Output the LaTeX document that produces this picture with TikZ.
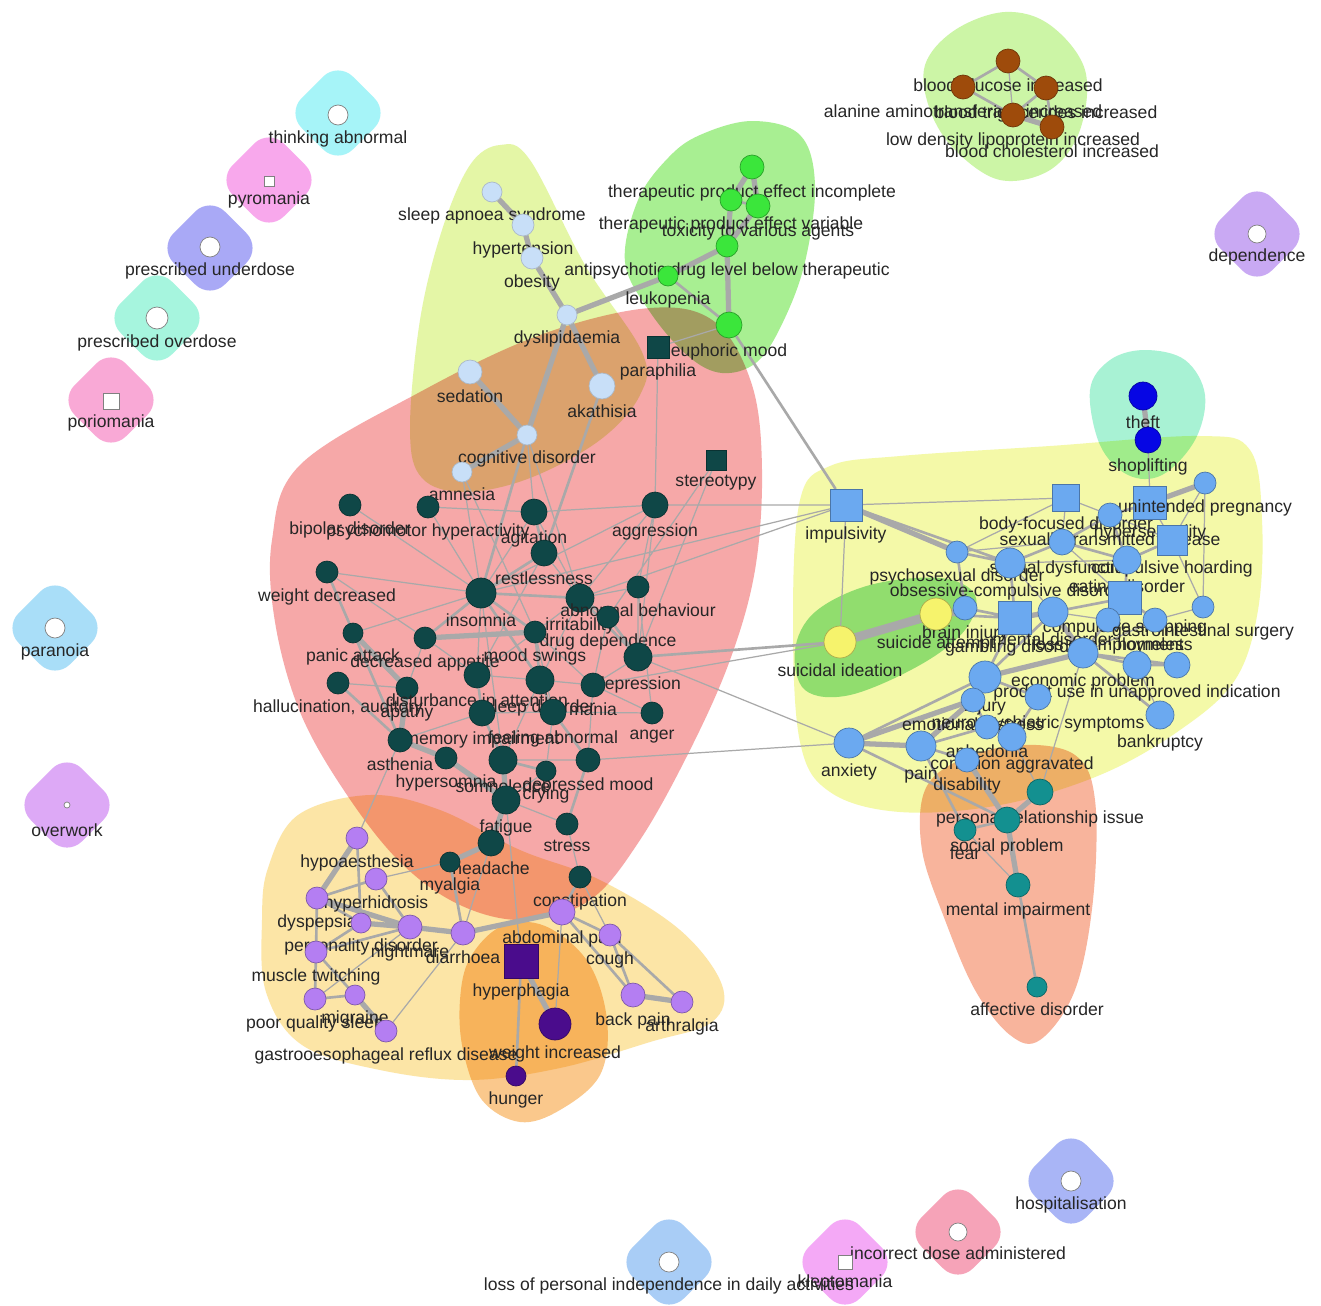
\documentclass[tikz,border=0pt]{standalone}
\usepackage{fontspec}
\setmainfont{Liberation Sans}
\usepackage{xcolor}
\usepackage{tikz}
\pgfdeclarelayer{hull}
\pgfdeclarelayer{edge}
\pgfsetlayers{hull,edge,main}
\definecolor{edgegray}{HTML}{A9A9A9}
\definecolor{lbltext}{HTML}{262626}
\definecolor{metabblue}{HTML}{C8DFF8}
\definecolor{druggreen}{HTML}{3BE63B}
\definecolor{darkteal}{HTML}{0F4747}
\definecolor{lilac}{HTML}{B47EF2}
\definecolor{indigo}{HTML}{4A0C8C}
\definecolor{cornblue}{HTML}{6BA9F0}
\definecolor{sunyellow}{HTML}{F6F36C}
\definecolor{seateal}{HTML}{139090}
\definecolor{deepblue}{HTML}{0606E4}
\definecolor{rust}{HTML}{9E4B0B}
\definecolor{hullmetab}{HTML}{E4F6A6}
\definecolor{hulldrug}{HTML}{A8EF92}
\definecolor{hullpsych}{HTML}{F6A8A8}
\definecolor{hullgi}{HTML}{FCE5A6}
\definecolor{hullappetite}{HTML}{FAC88C}
\definecolor{hullimpulse}{HTML}{F4F9A8}
\definecolor{hullsuicide}{HTML}{98E3A8}
\definecolor{hulltheft}{HTML}{A8F2D4}
\definecolor{hullsocial}{HTML}{F8B49C}
\definecolor{hulllab}{HTML}{CCF5A6}
\definecolor{blobcyan}{HTML}{A6F4F8}
\definecolor{blobpink}{HTML}{F8A8EC}
\definecolor{blobperi}{HTML}{A9A9F6}
\definecolor{blobmint}{HTML}{A6F5DE}
\definecolor{blobrose}{HTML}{F9A9D6}
\definecolor{blobsky}{HTML}{A9DEF8}
\definecolor{bloblilac}{HTML}{DDA9F6}
\definecolor{blobviolet}{HTML}{C9A9F3}
\definecolor{blobblue}{HTML}{A9B5F6}
\definecolor{blobcoral}{HTML}{F6A3B8}
\definecolor{blobmauve}{HTML}{F4A9F6}
\definecolor{blobazure}{HTML}{A9CDF6}

\begin{document}
\begin{tikzpicture}[x=0.02cm, y=-0.02cm,
  every label/.style={font=\fontsize{10}{11}\selectfont, text=lbltext, inner sep=0.5pt},
  label distance=2.5pt,
  net/.style={inner sep=0pt, outer sep=0pt, line width=0.4pt},
  wc/.style={net, circle, fill=white, draw=gray, minimum size=#1*0.02cm}, wc/.default=20,
  ws/.style={net, rectangle, fill=white, draw=gray, minimum size=#1*0.02cm}, ws/.default=12,
  mb/.style={net, circle, fill=metabblue, draw=metabblue!60!gray, minimum size=#1*0.02cm}, mb/.default=22,
  dg/.style={net, circle, fill=druggreen, draw=druggreen!70!black, minimum size=#1*0.02cm}, dg/.default=24,
  dk/.style={net, circle, fill=darkteal, draw=darkteal!70!black, minimum size=#1*0.02cm}, dk/.default=22,
  dksq/.style={net, rectangle, fill=darkteal, draw=darkteal!70!black, minimum size=#1*0.02cm}, dksq/.default=22,
  lp/.style={net, circle, fill=lilac, draw=lilac!70!black, minimum size=#1*0.02cm}, lp/.default=22,
  ip/.style={net, circle, fill=indigo, draw=indigo!70!black, minimum size=#1*0.02cm}, ip/.default=22,
  ipsq/.style={net, rectangle, fill=indigo, draw=indigo!70!black, minimum size=#1*0.02cm}, ipsq/.default=34,
  cb/.style={net, circle, fill=cornblue, draw=cornblue!70!black, minimum size=#1*0.02cm}, cb/.default=26,
  cbsq/.style={net, rectangle, fill=cornblue, draw=cornblue!70!black, minimum size=#1*0.02cm}, cbsq/.default=32,
  sy/.style={net, circle, fill=sunyellow, draw=sunyellow!70!black, minimum size=#1*0.02cm}, sy/.default=32,
  st/.style={net, circle, fill=seateal, draw=seateal!70!black, minimum size=#1*0.02cm}, st/.default=24,
  db/.style={net, circle, fill=deepblue, draw=deepblue!70!black, minimum size=#1*0.02cm}, db/.default=28,
  br/.style={net, circle, fill=rust, draw=rust!70!black, minimum size=#1*0.02cm}, br/.default=24,
  blob/.style={rectangle, rotate=45, minimum size=1.45cm, rounded corners=0.42cm, inner sep=0pt},
  ethin/.style={draw=edgegray, line width=0.7pt},
  emid/.style={draw=edgegray, line width=1.5pt},
  ethick/.style={draw=edgegray, line width=3pt},
  ehuge/.style={draw=edgegray, line width=5pt}]

\useasboundingbox (0,0) rectangle (1321,1305);

% cluster hulls
\begin{pgfonlayer}{hull}
\fill[white] (0,0) rectangle (1321,1305);
\begin{scope}[blend mode=multiply]
\fill[hullmetab] plot[smooth cycle, tension=0.6] coordinates {(470,165) (500,145) (530,160) (585,265) (642,352) (640,395) (600,440) (530,478) (465,492) (422,478) (410,430) (420,320) (442,230)};
\fill[hulldrug] plot[smooth cycle, tension=0.6] coordinates {(700,135) (752,121) (800,135) (815,185) (805,262) (783,322) (757,362) (722,373) (688,356) (650,312) (625,262) (638,200) (668,158)};
\fill[hullpsych] plot[smooth cycle, tension=0.6] coordinates {(300,465) (420,392) (540,335) (650,308) (715,322) (752,385) (762,470) (755,570) (730,660) (690,750) (640,840) (590,900) (525,920) (460,905) (400,862) (345,792) (300,712) (275,622) (272,540)};
\fill[hullgi] plot[smooth cycle, tension=0.6] coordinates {(268,868) (298,815) (370,795) (440,810) (520,850) (600,880) (680,930) (722,985) (712,1022) (650,1042) (560,1068) (470,1080) (380,1070) (302,1045) (266,992) (262,920)};
\fill[hullappetite] plot[smooth cycle, tension=0.6] coordinates {(470,958) (502,926) (545,926) (588,962) (607,1020) (600,1075) (560,1110) (520,1122) (482,1100) (463,1050) (460,1000)};
\fill[hullimpulse] plot[smooth cycle, tension=0.6] coordinates {(800,500) (830,466) (900,456) (1050,446) (1200,436) (1250,450) (1262,520) (1258,610) (1235,680) (1180,730) (1100,775) (1000,805) (900,812) (830,792) (800,742) (793,620)};
\fill[hullsuicide] plot[smooth cycle, tension=0.6] coordinates {(795,650) (815,612) (870,585) (940,578) (975,595) (965,630) (920,665) (850,695) (805,690)};
\fill[hulltheft] plot[smooth cycle, tension=0.6] coordinates {(1090,390) (1110,360) (1145,350) (1185,360) (1205,395) (1195,440) (1162,475) (1128,475) (1100,445)};
\fill[hullsocial] plot[smooth cycle, tension=0.6] coordinates {(925,790) (960,760) (1020,745) (1075,755) (1095,800) (1093,900) (1075,990) (1040,1040) (1010,1035) (975,990) (945,920) (922,850)};
\fill[hulllab] plot[smooth cycle, tension=0.6] coordinates {(925,65) (955,30) (1005,12) (1050,25) (1085,70) (1080,130) (1050,170) (1000,180) (955,150) (930,110)};
\end{scope}
% single-term hulls
\foreach \bx/\by/\bc [count=\i] in {338/113/blobcyan, 269/180/blobpink, 210/248/blobperi,
    157/318/blobmint, 111/400/blobrose, 55/628/blobsky, 67/805/bloblilac, 1257/234/blobviolet,
    1071/1181/blobblue, 958/1232/blobcoral, 845/1262/blobmauve, 669/1262/blobazure}
  \node[blob, fill=\bc] (blob\i) at (\bx,\by) {};
\end{pgfonlayer}

% isolated terms
\node[wc=20, label=below:thinking abnormal] (tab) at (338,115) {};
\node[ws=10, label=below:pyromania] (pyr) at (269,181) {};
\node[wc=20, label=below:prescribed underdose] (pud) at (210,247) {};
\node[wc=22, label=below:prescribed overdose] (pod) at (157,318) {};
\node[ws=16, label=below:poriomania] (por) at (111,401) {};
\node[wc=20, label=below:paranoia] (prn) at (55,628) {};
\node[wc=6, label={[label distance=8pt]below:overwork}] (ovw) at (67,805) {};
\node[wc=18, label=below:dependence] (dpd) at (1257,234) {};
\node[wc=20, label=below:hospitalisation] (hos) at (1071,1181) {};
\node[wc=18, label=below:incorrect dose administered] (ida) at (958,1232) {};
\node[ws=14, label=below:kleptomania] (klp) at (845,1262) {};
\node[wc=20, label=below:loss of personal independence in daily activities] (lpi) at (669,1262) {};

% laboratory values
\node[br, label=below:blood glucose increased] (bgi) at (1008,61) {};
\node[br, label=below:alanine aminotransferase increased] (alt) at (963,87) {};
\node[br, label=below:blood triglycerides increased] (btg) at (1046,88) {};
\node[br, label=below:low density lipoprotein increased] (ldl) at (1013,115) {};
\node[br, label=below:blood cholesterol increased] (bch) at (1052,127) {};

% metabolic
\node[mb=20, label=below:sleep apnoea syndrome] (sas) at (492,192) {};
\node[mb=22, label=below:hypertension] (htn) at (523,225) {};
\node[mb=22, label=below:obesity] (obs) at (532,258) {};
\node[mb=20, label=below:dyslipidaemia] (dys) at (567,315) {};
\node[mb=24, label=below:sedation] (sed) at (470,372) {};
\node[mb=26, label=below:akathisia] (aka) at (602,386) {};
\node[mb=20, label=below:cognitive disorder] (cog) at (527,435) {};
\node[mb=20, label=below:amnesia] (amn) at (462,472) {};

% drug levels
\node[dg=24, label=below:therapeutic product effect incomplete] (tpi) at (752,167) {};
\node[dg=22, label=below:therapeutic product effect variable] (tpv) at (731,200) {};
\node[dg=24, label=below:toxicity to various agents] (tox) at (758,206) {};
\node[dg=22, label=below:antipsychotic drug level below therapeutic] (adl) at (727,246) {};
\node[dg=20, label=below:leukopenia] (leu) at (668,276) {};
\node[dg=26, label=below:euphoric mood] (eup) at (729,325) {};

% psychiatric
\node[dksq=22, label=below:paraphilia] (par) at (658,347) {};
\node[dksq=20, label=below:stereotypy] (ste) at (716,460) {};
\node[dk=22, label=below:bipolar disorder] (bip) at (350,505) {};
\node[dk=22, label=below:psychomotor hyperactivity] (psy) at (428,507) {};
\node[dk=26, label=below:agitation] (agi) at (534,512) {};
\node[dk=26, label=below:aggression] (agg) at (655,505) {};
\node[dk=26, label=below:restlessness] (res) at (544,553) {};
\node[dk=22, label=below:weight decreased] (wdc) at (327,572) {};
\node[dk=30, label=below:insomnia] (ins) at (481,593) {};
\node[dk=28, label=below:irritability] (irr) at (580,598) {};
\node[dk=22, label=below:abnormal behaviour] (abb) at (638,587) {};
\node[dk=22, label=below:drug dependence] (drd) at (608,617) {};
\node[dk=22, label=below:mood swings] (mos) at (535,632) {};
\node[dk=20, label=below:panic attack] (pan) at (353,633) {};
\node[dk=22, label=below:decreased appetite] (dap) at (425,638) {};
\node[dk=28, label=below:depression] (dep) at (638,657) {};
\node[dk=22, label={below:hallucination, auditory}] (hal) at (338,683) {};
\node[dk=22, label=below:apathy] (apa) at (407,688) {};
\node[dk=26, label=below:disturbance in attention] (dia) at (477,675) {};
\node[dk=28, label=below:sleep disorder] (sld) at (540,680) {};
\node[dk=24, label=below:mania] (man) at (593,685) {};
\node[dk=26, label=below:memory impairment] (mem) at (482,713) {};
\node[dk=26, label=below:feeling abnormal] (fab) at (553,712) {};
\node[dk=22, label=below:anger] (ang) at (652,713) {};
\node[dk=24, label=below:asthenia] (ast) at (400,740) {};
\node[dk=22, label=below:hypersomnia] (hys) at (446,758) {};
\node[dk=28, label=below:somnolence] (som) at (503,760) {};
\node[dk=24, label=below:depressed mood] (dpm) at (588,760) {};
\node[dk=20, label=below:crying] (cry) at (546,771) {};
\node[dk=28, label=below:fatigue] (fat) at (506,800) {};
\node[dk=22, label=below:stress] (str) at (567,824) {};
\node[dk=26, label=below:headache] (hea) at (491,843) {};
\node[dk=20, label=below:myalgia] (mya) at (450,862) {};
\node[dk=22, label=below:constipation] (con) at (580,877) {};

% gastrointestinal and somatic
\node[lp=22, label=below:hypoaesthesia] (hyp) at (357,838) {};
\node[lp=22, label=below:hyperhidrosis] (hyh) at (376,879) {};
\node[lp=22, label=below:dyspepsia] (dysp) at (317,898) {};
\node[lp=20, label=below:personality disorder] (pdi) at (361,923) {};
\node[lp=24, label=below:nightmare] (nig) at (410,927) {};
\node[lp=24, label=below:diarrhoea] (drh) at (463,933) {};
\node[lp=22, label=below:muscle twitching] (mtw) at (316,952) {};
\node[lp=22, label=below:poor quality sleep] (pqs) at (315,999) {};
\node[lp=20, label=below:migraine] (mig) at (355,995) {};
\node[lp=22, label=below:gastrooesophageal reflux disease] (ger) at (386,1031) {};
\node[lp=26, label=below:abdominal pain] (abp) at (562,912) {};
\node[lp=22, label=below:cough] (cou) at (610,935) {};
\node[lp=24, label=below:back pain] (bap) at (633,995) {};
\node[lp=22, label=below:arthralgia] (art) at (682,1002) {};

% appetite
\node[ipsq=34, label=below:hyperphagia] (hph) at (521,961) {};
\node[ip=32, label=below:weight increased] (wti) at (555,1024) {};
\node[ip=20, label=below:hunger] (hun) at (516,1076) {};

% impulse control
\node[cbsq=32, label=below:impulsivity] (imp) at (846,505) {};
\node[cbsq=27, label=below:body-focused disorder] (bfd) at (1066,498) {};
\node[cbsq=33, label=below:hypersexuality] (hsx) at (1150,503) {};
\node[cb=22, label=below:unintended pregnancy] (unp) at (1205,483) {};
\node[cb=24, label=below:sexually transmitted disease] (std) at (1110,515) {};
\node[cb=22, label=below:psychosexual disorder] (psd) at (957,552) {};
\node[cb=26, label=below:sexual dysfunction] (sdy) at (1062,542) {};
\node[cb=30, label=below:obsessive-compulsive disorder] (ocd) at (1010,563) {};
\node[cbsq=30, label=below:compulsive hoarding] (chd) at (1172,540) {};
\node[cb=28, label=below:eating disorder] (eat) at (1127,560) {};
\node[cbsq=33, label=below:compulsive shopping] (csh) at (1125,598) {};
\node[cb=24, label=below:brain injury] (bri) at (965,608) {};
\node[cbsq=33, label=below:gambling disorder] (gam) at (1015,618) {};
\node[cb=30, label=below:mental disorder] (mdi) at (1053,612) {};
\node[cb=24, label=below:loss of employment] (loe) at (1108,620) {};
\node[cb=22, label=below:gastrointestinal surgery] (gis) at (1203,607) {};
\node[cb=24, label=below:homeless] (hom) at (1155,620) {};
\node[cb=30, label=below:economic problem] (eco) at (1083,653) {};
\node[cb=28, label=below:product use in unapproved indication] (pua) at (1137,665) {};
\node[cb=26] (unk) at (1177,665) {};
\node[cb=32, label=below:injury] (inj) at (985,677) {};
\node[cb=24, label=below:emotional distress] (emd) at (973,700) {};
\node[cb=26, label=below:neuropsychiatric symptoms] (nps) at (1038,697) {};
\node[cb=28, label=below:bankruptcy] (bkr) at (1160,715) {};
\node[cb=24, label=below:anhedonia] (anh) at (987,727) {};
\node[cb=28, label=below:condition aggravated] (cag) at (1012,737) {};
\node[cb=24, label=below:disability] (dsb) at (967,760) {};
\node[cb=30, label=below:anxiety] (anx) at (849,743) {};
\node[cb=30, label=below:pain] (pai) at (921,746) {};
\node[sy=32, label=below:suicidal ideation] (sui) at (840,642) {};
\node[sy=32, label=below:suicide attempt] (sat) at (936,614) {};
\node[db=28, label=below:theft] (the) at (1143,396) {};
\node[db=26, label=below:shoplifting] (sho) at (1148,440) {};

% social
\node[st=26, label=below:personal relationship issue] (pri) at (1040,792) {};
\node[st=26, label=below:social problem] (spr) at (1007,820) {};
\node[st=22, label=below:fear] (fea) at (965,830) {};
\node[st=24, label=below:mental impairment] (mim) at (1018,885) {};
\node[st=20, label=below:affective disorder] (afd) at (1037,987) {};

% co-occurrence links
\begin{pgfonlayer}{edge}
\draw[ethin] (bgi) -- (ldl) (cog) -- (irr) (cog) -- (agi) (amn) -- (ins) (amn) -- (mos)
  (eup) -- (par) (par) -- (agg) (ste) -- (drd) (ste) -- (dep) (bip) -- (ins) (psy) -- (ins)
  (psy) -- (agi) (agi) -- (agg) (agg) -- (imp) (agi) -- (ins) (agi) -- (irr) (agg) -- (ins)
  (agg) -- (irr) (agg) -- (dep) (agg) -- (abb) (res) -- (irr) (res) -- (dia) (ins) -- (som)
  (ins) -- (wdc) (ins) -- (pan) (ins) -- (dia) (irr) -- (abb) (irr) -- (mos) (irr) -- (sld)
  (abb) -- (dep) (abb) -- (ang) (drd) -- (man) (mos) -- (dia) (mos) -- (man) (mos) -- (fab)
  (wdc) -- (dap) (hal) -- (apa) (dap) -- (apa) (dap) -- (dia) (dia) -- (sld) (sld) -- (man)
  (sld) -- (som) (mem) -- (fab) (mem) -- (ast) (fab) -- (ang) (fab) -- (cry) (man) -- (dpm)
  (man) -- (ang) (dep) -- (man) (dep) -- (anx) (dpm) -- (anx) (cry) -- (fat) (fat) -- (str)
  (str) -- (con) (hea) -- (drh) (fat) -- (hph) (dpm) -- (som) (ins) -- (imp) (irr) -- (imp)
  (man) -- (sui) (hyp) -- (ast) (hyh) -- (mya) (nig) -- (pqs) (ger) -- (drh) (abp) -- (wti)
  (con) -- (cou) (imp) -- (bfd) (imp) -- (sui) (psd) -- (bfd) (psd) -- (sdy) (ocd) -- (eat)
  (ocd) -- (mdi) (bfd) -- (sdy) (bfd) -- (std) (hsx) -- (chd) (hsx) -- (sho) (std) -- (chd)
  (sdy) -- (csh) (chd) -- (unp) (chd) -- (gis) (gis) -- (hom) (gis) -- (unp) (pua) -- (bkr)
  (cag) -- (pri) (eco) -- (pri) (fea) -- (mim) (hom) -- (eco) (loe) -- (csh) (loe) -- (mdi);
\draw[emid] (bgi) -- (alt) (bgi) -- (btg) (alt) -- (ldl) (btg) -- (ldl) (btg) -- (bch)
  (tpv) -- (tox) (leu) -- (eup) (eup) -- (imp) (cog) -- (ins) (aka) -- (res) (agi) -- (res)
  (res) -- (ins) (ins) -- (irr) (ins) -- (dap) (ins) -- (mos) (ins) -- (sld) (irr) -- (drd)
  (irr) -- (dep) (drd) -- (dep) (mos) -- (sld) (wdc) -- (ast) (hal) -- (ast) (dia) -- (mem)
  (sld) -- (fab) (mem) -- (som) (fab) -- (dpm) (dep) -- (sui) (som) -- (cry) (dpm) -- (str)
  (con) -- (abp) (hyp) -- (pdi) (hyh) -- (nig) (hyh) -- (dysp) (dysp) -- (pdi) (dysp) -- (mtw)
  (pdi) -- (mtw) (nig) -- (mtw) (mtw) -- (pqs) (mtw) -- (mig) (pqs) -- (mig) (drh) -- (mya)
  (abp) -- (cou) (abp) -- (bap) (cou) -- (bap) (cou) -- (art) (hph) -- (hun)
  (imp) -- (ocd) (psd) -- (ocd) (psd) -- (bri) (ocd) -- (sdy) (ocd) -- (gam) (hsx) -- (std)
  (std) -- (sdy) (std) -- (eat) (sdy) -- (eat) (eat) -- (csh) (eat) -- (chd) (csh) -- (hom)
  (csh) -- (mdi) (csh) -- (eco) (gam) -- (inj) (gam) -- (bri) (mdi) -- (inj) (eco) -- (pua)
  (eco) -- (unk) (pua) -- (unk) (eco) -- (bkr) (inj) -- (nps) (inj) -- (anx) (emd) -- (anh)
  (anh) -- (cag) (cag) -- (nps) (pai) -- (anh) (pai) -- (dsb) (anx) -- (spr) (pai) -- (fea)
  (sat) -- (bri) (sat) -- (gam) (spr) -- (fea) (mim) -- (afd);
\draw[ethick] (ldl) -- (bch) (tpi) -- (tpv) (tpi) -- (tox) (tpv) -- (adl) (tox) -- (adl)
  (adl) -- (leu) (adl) -- (eup) (leu) -- (dys) (sas) -- (htn) (htn) -- (obs) (obs) -- (dys)
  (dys) -- (aka) (dys) -- (cog) (sed) -- (cog) (cog) -- (amn) (mos) -- (dap) (pan) -- (apa)
  (apa) -- (ast) (ast) -- (hys) (hys) -- (fat) (som) -- (fat) (fat) -- (hea) (hea) -- (mya)
  (hyp) -- (dysp) (dysp) -- (nig) (pdi) -- (nig) (nig) -- (drh) (mig) -- (ger) (drh) -- (abp)
  (bap) -- (art) (hph) -- (wti) (imp) -- (psd) (hsx) -- (unp) (the) -- (sho) (gam) -- (mdi)
  (mdi) -- (eco) (eco) -- (inj) (inj) -- (emd) (emd) -- (anx) (pai) -- (anx) (pai) -- (emd)
  (dsb) -- (spr) (sui) -- (bri) (pri) -- (spr) (spr) -- (mim);
\draw[ehuge] (sui) -- (sat);
\end{pgfonlayer}
\end{tikzpicture}
\end{document}
